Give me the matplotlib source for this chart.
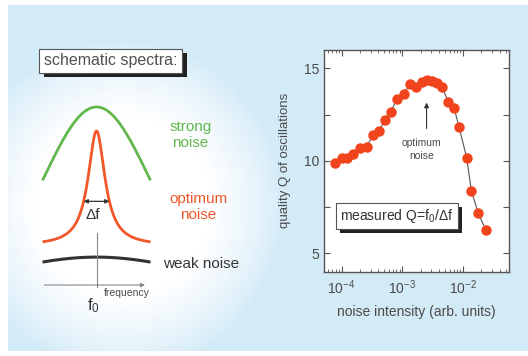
import numpy as np
import matplotlib
matplotlib.use("Agg")
import matplotlib.pyplot as plt
import matplotlib.patheffects as pe
from matplotlib.ticker import LogLocator, MultipleLocator, NullFormatter

plt.rcParams["font.family"] = ["Liberation Sans", "DejaVu Sans"]
plt.rcParams["mathtext.fontset"] = "custom"
plt.rcParams["mathtext.rm"] = "Liberation Sans"
plt.rcParams["mathtext.it"] = "Liberation Sans:italic"
plt.rcParams["mathtext.bf"] = "Liberation Sans:bold"

# measured quality factor vs. noise intensity
noise_intensity = [7.76e-5, 1.00e-4, 1.21e-4, 1.55e-4, 2.00e-4, 2.58e-4, 3.31e-4,
                   4.15e-4, 5.15e-4, 6.40e-4, 8.20e-4, 1.06e-3, 1.33e-3, 1.67e-3,
                   2.09e-3, 2.53e-3, 3.05e-3, 3.69e-3, 4.47e-3, 5.66e-3, 7.11e-3,
                   8.59e-3, 1.14e-2, 1.37e-2, 1.77e-2, 2.36e-2]
quality_q = [9.86, 10.18, 10.18, 10.36, 10.71, 10.76, 11.40, 11.63, 12.21, 12.66,
             13.34, 13.63, 14.15, 14.00, 14.29, 14.36, 14.33, 14.20, 14.02, 13.21,
             12.85, 11.82, 10.18, 8.37, 7.17, 6.27]

# schematic line shapes (frequency offset from f0, arbitrary intensity)
strong_peak, strong_sigma = 1.0, 0.97
optimum_base, optimum_amp, optimum_gamma = 0.22, 0.645, 0.19
weak_peak, weak_sigma = 0.157, 1.6
width_level = 0.47

GREEN = "#62b84c"
ORANGE = "#f2572a"
DARK = "#333333"
GRAY = "#4a4a4a"
BLUE = np.array([0.83, 0.922, 0.972])
RED = "#f0441c"

W, H = 528, 356
fig = plt.figure(figsize=(W / 100, H / 100), dpi=100, facecolor="white")

# background: light blue panel with a white glow behind the schematic
bg = fig.add_axes([0, 0, 1, 1], zorder=-10)
yy, xx = np.mgrid[0:H, 0:W]
r = np.sqrt(((xx - 122) / 160.0) ** 2 + ((yy - 205) / 165.0) ** 2)
glow = np.clip((1.0 - r) / 0.45, 0, 1) ** 0.8
img = BLUE[None, None, :] * (1 - glow[..., None]) + glow[..., None]
inside = (xx >= 8) & (yy >= 5) & (yy <= 350)
img[~inside] = 1.0
bg.imshow(img, extent=[0, W, H, 0], aspect="auto", interpolation="bilinear")
bg.set_xlim(0, W)
bg.set_ylim(H, 0)
bg.axis("off")

# ---- left: schematic spectra ----
sk = fig.add_axes([0.0703, 0.1713, 0.225, 0.5478])
sk.set_xlim(-1.1, 1.1)
sk.set_ylim(-0.056, 1.039)
sk.axis("off")

f = np.linspace(-1.0, 1.0, 400)
strong = strong_peak * np.exp(-f ** 2 / (2 * strong_sigma ** 2))
optimum = optimum_base + optimum_amp * optimum_gamma ** 2 / (f ** 2 + optimum_gamma ** 2)
weak = weak_peak * np.exp(-f ** 2 / (2 * weak_sigma ** 2))

sk.plot(f, strong, color=GREEN, lw=2.0, solid_capstyle="butt")
sk.plot(f, optimum, color=ORANGE, lw=2.0, solid_capstyle="butt")
sk.plot(f, weak, color=DARK, lw=2.2, solid_capstyle="butt")

# frequency axis and f0 marker
sk.annotate("", xy=(0.95, 0), xytext=(-1.02, 0),
            arrowprops=dict(arrowstyle="-|>", color="#888888", lw=0.8,
                            mutation_scale=6), annotation_clip=False)
sk.plot([0, 0], [-0.01, 0.29], color="#888888", lw=0.8)

# linewidth arrow
half = optimum_gamma * np.sqrt(optimum_amp / (width_level - optimum_base) - 1)
sk.annotate("", xy=(half, width_level), xytext=(-half, width_level),
            arrowprops=dict(arrowstyle="<|-|>", color=DARK, lw=0.9,
                            mutation_scale=6, shrinkA=0, shrinkB=0))
sk.text(-0.065, 0.393, "Δf", color=DARK, fontsize=11, ha="center", va="center")
sk.text(-0.06, -0.115, r"$\mathrm{f_0}$", color=DARK, fontsize=12,
        ha="center", va="center")
sk.text(0.14, -0.045, "frequency", color=GRAY, fontsize=7.5, ha="left", va="center")

sk.text(1.74, 0.843, "strong\nnoise", color=GREEN, fontsize=11, ha="center",
        va="center", linespacing=1.15)
sk.text(1.88, 0.438, "optimum\nnoise", color=ORANGE, fontsize=11, ha="center",
        va="center", linespacing=1.15)
sk.text(1.23, 0.118, "weak noise", color=DARK, fontsize=11, ha="left", va="center")

shadow = [pe.withSimplePatchShadow(offset=(3.0, -3.0), shadow_rgbFace="#222222",
                                   alpha=1.0)]
title = fig.text(0.210, 0.829, "schematic spectra:", color="#505050", fontsize=11.5,
                 ha="center", va="center",
                 bbox=dict(boxstyle="square,pad=0.3", fc="white", ec="#555555", lw=0.8))
title.get_bbox_patch().set_path_effects(shadow)

# ---- right: measured quality factor ----
ax = fig.add_axes([0.6136, 0.2368, 0.351, 0.6228])
ax.set_facecolor("white")
ax.plot(noise_intensity, quality_q, color="#555555", lw=0.8, zorder=2)
ax.plot(noise_intensity, quality_q, "o", color=RED, ms=6.5, mec=RED, zorder=3)
ax.set_xscale("log")
ax.set_xlim(5.13e-5, 5.75e-2)
ax.set_ylim(4.0, 16.0)
ax.set_yticks([5, 10, 15])
ax.yaxis.set_minor_locator(MultipleLocator(2.5))
ax.xaxis.set_major_locator(LogLocator(base=10, numticks=10))
ax.xaxis.set_minor_locator(LogLocator(base=10, subs=np.arange(2, 10), numticks=10))
ax.xaxis.set_minor_formatter(NullFormatter())
ax.tick_params(which="both", direction="in", top=True, right=True,
               colors="#555555", labelcolor=GRAY, labelsize=10)
ax.tick_params(which="major", length=4, width=0.8)
ax.tick_params(which="minor", length=2.5, width=0.6)
ax.tick_params(axis="x", pad=5)
ax.tick_params(axis="y", which="minor", length=4, width=0.8)
for s in ax.spines.values():
    s.set_color("#555555")
    s.set_linewidth(1.0)

ax.set_ylabel("quality Q of oscillations", color=GRAY, fontsize=9.5)
ax.yaxis.set_label_coords(-0.178, 0.5)
ax.set_xlabel("noise intensity (arb. units)", color=GRAY, fontsize=10)
ax.xaxis.set_label_coords(0.5, -0.15)

ax.annotate("", xy=(2.5e-3, 13.3), xytext=(2.5e-3, 11.6),
            arrowprops=dict(arrowstyle="-|>", color=DARK, lw=0.8, mutation_scale=7))
ax.text(2.09e-3, 10.61, "optimum\nnoise", color=GRAY, fontsize=7.5, ha="center",
        va="center", linespacing=1.3)

meas = ax.text(0.394, 0.251, r"measured Q=$\mathrm{f_0}$/Δf", transform=ax.transAxes,
               color=DARK, fontsize=10, ha="center", va="center",
               bbox=dict(boxstyle="square,pad=0.3", fc="white", ec="#555555", lw=0.8))
meas.get_bbox_patch().set_path_effects(shadow)

fig.savefig("out.png", dpi=100, facecolor=fig.get_facecolor())
